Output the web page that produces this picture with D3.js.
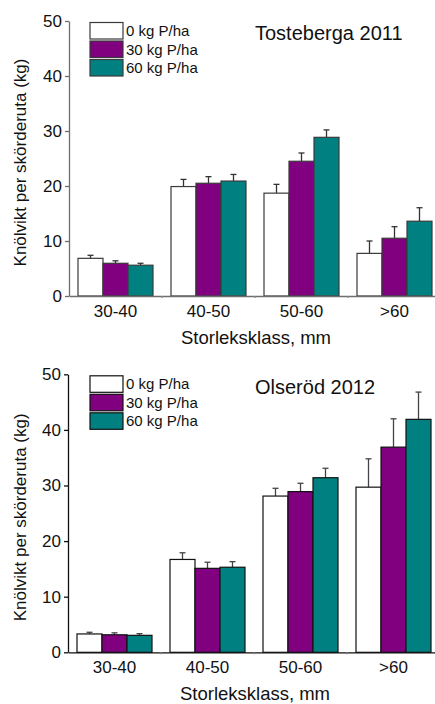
<!DOCTYPE html>
<html>
<head>
<meta charset="utf-8">
<script src="https://cdn.jsdelivr.net/npm/d3@7"></script>
<style>
  body { margin: 0; background: #fff; }
  text { font-family: 'Liberation Sans', Arial, sans-serif; fill: #111; }
</style>
</head>
<body>
<div class="chart"></div>
<script>
// categories and series
const categories = ['30-40', '40-50', '50-60', '>60'];
const seriesNames = ['0 kg P/ha', '30 kg P/ha', '60 kg P/ha'];
const seriesColors = ['#ffffff', '#800080', '#008080'];
const yTicks = [0, 10, 20, 30, 40, 50];

// Tosteberga 2011 - means and upper error (kg)
const toste0 = [6.85, 19.9, 18.7, 7.75];
const toste30 = [5.95, 20.5, 24.5, 10.5];
const toste60 = [5.6, 20.9, 28.85, 13.6];
const tosteErr0 = [0.55, 1.3, 1.6, 2.25];
const tosteErr30 = [0.45, 1.2, 1.5, 2.1];
const tosteErr60 = [0.35, 1.2, 1.35, 2.45];

// Olseröd 2012
const olse0 = [3.3, 16.7, 28.1, 29.7];
const olse30 = [3.15, 15.1, 28.9, 36.9];
const olse60 = [3.05, 15.3, 31.4, 41.9];
const olseErr0 = [0.3, 1.2, 1.4, 5.1];
const olseErr30 = [0.35, 1.1, 1.5, 5.1];
const olseErr60 = [0.3, 1.0, 1.7, 4.9];

const svg = d3
  .select('.chart')
  .append('svg')
  .attr('width', 435)
  .attr('height', 704);

function drawPanel(opts) {
  const g = svg.append('g');
  const means = opts.means;
  const errs = opts.errs;

  const x = d3
    .scaleBand()
    .domain(categories)
    .range([opts.left, opts.left + 372])
    .paddingInner(18 / 93)
    .paddingOuter(9 / 93);

  const x1 = d3
    .scaleBand()
    .domain(d3.range(seriesNames.length))
    .range([0, x.bandwidth()]);

  const y = d3.scaleLinear().domain([0, 50]).range([opts.bottom, opts.top]);

  // bars
  categories.forEach((cat, ci) => {
    seriesNames.forEach((s, si) => {
      const bx = x(cat) + x1(si);
      const v = means[si][ci];
      const e = errs[si][ci];
      const cx = bx + x1.bandwidth() / 2;
      g.append('line')
        .attr('x1', cx)
        .attr('x2', cx)
        .attr('y1', y(v))
        .attr('y2', y(v + e))
        .attr('stroke', opts.errColor)
        .attr('stroke-width', 1.3);
      g.append('line')
        .attr('x1', cx - 3)
        .attr('x2', cx + 3)
        .attr('y1', y(v + e))
        .attr('y2', y(v + e))
        .attr('stroke', opts.errColor)
        .attr('stroke-width', 1.3);
      g.append('rect')
        .attr('x', bx)
        .attr('y', y(v))
        .attr('width', x1.bandwidth())
        .attr('height', y(0) - y(v))
        .attr('fill', seriesColors[si])
        .attr('stroke', opts.barStroke)
        .attr('stroke-width', 1.2);
    });
  });

  // y axis
  const yAxis = g
    .append('g')
    .attr('transform', `translate(${opts.left},0)`)
    .call(
      d3
        .axisLeft(y)
        .tickValues(yTicks)
        .tickSizeInner(4)
        .tickSizeOuter(0)
        .tickPadding(3),
    );
  yAxis.selectAll('path, line').attr('stroke', opts.axisColor).attr('stroke-width', 1.3);
  yAxis.selectAll('text').style('font-size', '17px').attr('fill', '#111');

  // x axis
  const xAxis = g
    .append('g')
    .attr('transform', `translate(0,${opts.bottom})`)
    .call(d3.axisBottom(x).tickSizeInner(0).tickSizeOuter(0).tickPadding(9));
  xAxis.selectAll('path').attr('stroke', opts.axisColor).attr('stroke-width', 1.3);
  xAxis.selectAll('text').style('font-size', '17px').attr('fill', '#111');

  // small ticks between groups
  g.selectAll('.sep')
    .data(categories.slice(1))
    .enter()
    .append('line')
    .attr('x1', d => x(d) - x.step() * x.paddingInner() / 2)
    .attr('x2', d => x(d) - x.step() * x.paddingInner() / 2)
    .attr('y1', opts.bottom)
    .attr('y2', opts.bottom + 2)
    .attr('stroke', '#888')
    .attr('stroke-width', 1.3);

  // axis titles
  g.append('text')
    .attr('x', opts.left + 187)
    .attr('y', opts.bottom + 48)
    .attr('text-anchor', 'middle')
    .style('font-size', '18.5px')
    .text('Storleksklass, mm');

  g.append('text')
    .attr('transform', `translate(26,${(opts.top + opts.bottom) / 2 + 4}) rotate(-90)`)
    .attr('text-anchor', 'middle')
    .style('font-size', '17px')
    .text('Knölvikt per skörderuta (kg)');

  // panel title
  g.append('text')
    .attr('x', 255)
    .attr('y', opts.top + opts.titleDy)
    .style('font-size', '20px')
    .text(opts.title);

  // legend
  const leg = g
    .selectAll('.leg')
    .data(seriesNames)
    .enter()
    .append('g')
    .attr('transform', (d, i) => `translate(90,${opts.top + 1.5 + i * 18.5})`);
  leg
    .append('rect')
    .attr('width', 33)
    .attr('height', 16.5)
    .attr('fill', (d, i) => seriesColors[i])
    .attr('stroke', opts.barStroke)
    .attr('stroke-width', 1.2);
  leg
    .append('text')
    .attr('x', 36)
    .attr('y', 13.5)
    .style('font-size', '15px')
    .text(d => d);
}

drawPanel({
  title: 'Tosteberga 2011',
  titleDy: 19,
  left: 69,
  top: 21,
  bottom: 296,
  means: [toste0, toste30, toste60],
  errs: [tosteErr0, tosteErr30, tosteErr60],
  axisColor: '#6e6e6e',
  barStroke: '#3a3a3a',
  errColor: '#333',
});

drawPanel({
  title: 'Olseröd 2012',
  titleDy: 20,
  left: 68,
  top: 374.3,
  bottom: 652.3,
  means: [olse0, olse30, olse60],
  errs: [olseErr0, olseErr30, olseErr60],
  axisColor: '#111',
  barStroke: '#111',
  errColor: '#444',
});
</script>
</body>
</html>
